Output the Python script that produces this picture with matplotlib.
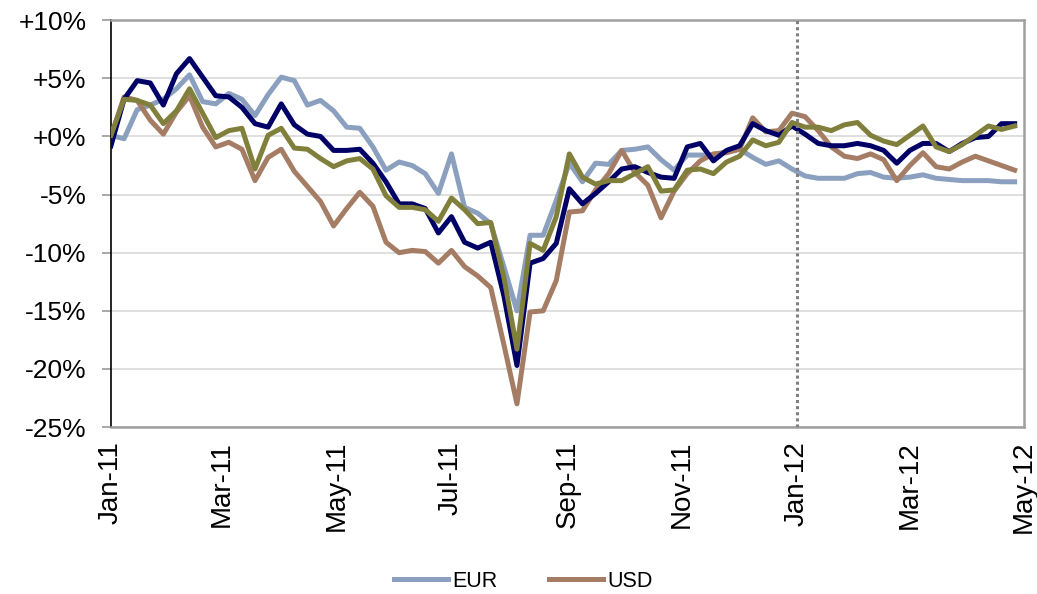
import matplotlib
matplotlib.use('Agg')
import matplotlib.pyplot as plt
import matplotlib.dates as mdates
import pandas as pd

plt.rcParams.update({
    'font.family': ['Liberation Sans', 'DejaVu Sans'],
    'font.size': 17.5,
})

# --- Data (cumulative performance, %, roughly weekly) ---
dates = pd.date_range('2011-01-01', '2012-04-26', periods=70)

eur = [0.1, -0.2, 2.3, 2.7, 3.2, 4.1, 5.3, 3.0, 2.8, 3.7, 3.2, 1.8, 3.6, 5.1, 4.8,
       2.7, 3.1, 2.2, 0.8, 0.7, -0.9, -2.9, -2.2, -2.5, -3.2, -4.9, -1.5, -6.1, -6.6,
       -7.5, -11.2, -15.0, -8.5, -8.5, -5.5, -2.3, -3.9, -2.3, -2.4, -1.2, -1.1, -0.9,
       -2.0, -2.9, -1.6, -1.6, -1.6, -1.3, -1.1, -1.8, -2.4, -2.1, -2.8, -3.4, -3.6, -3.6,
       -3.6, -3.2, -3.1, -3.5, -3.6, -3.5, -3.3, -3.6, -3.7, -3.8, -3.8, -3.8, -3.9, -3.9]

usd = [0.0, 3.4, 3.1, 1.4, 0.2, 2.1, 3.5, 0.8, -0.9, -0.5, -1.1, -3.8, -1.8, -1.1, -3.0,
       -4.3, -5.6, -7.7, -6.2, -4.8, -6.0, -9.1, -10.0, -9.8, -9.9, -10.9, -9.8, -11.2, -12.0,
       -13.0, -17.9, -23.0, -15.1, -15.0, -12.4, -6.5, -6.4, -4.6, -3.2, -1.2, -3.1, -4.2,
       -7.0, -4.7, -3.2, -2.1, -1.5, -1.4, -1.1, 1.6, 0.4, 0.5, 2.0, 1.7, 0.5, -0.9,
       -1.7, -1.9, -1.5, -2.0, -3.8, -2.5, -1.4, -2.6, -2.8, -2.2, -1.7, -2.1, -2.5, -2.9]

navy = [-0.8, 3.2, 4.8, 4.6, 2.7, 5.4, 6.7, 5.1, 3.5, 3.4, 2.5, 1.1, 0.8, 2.8, 1.0,
        0.2, 0.0, -1.2, -1.2, -1.1, -2.3, -3.9, -5.8, -5.8, -6.2, -8.3, -6.9, -9.1, -9.6,
        -9.1, -13.7, -19.7, -10.9, -10.5, -9.2, -4.5, -5.8, -4.9, -3.9, -2.8, -2.6, -3.1,
        -3.5, -3.6, -0.9, -0.6, -2.1, -1.2, -0.8, 1.1, 0.5, 0.1, 0.9, 0.2, -0.6, -0.8,
        -0.8, -0.6, -0.8, -1.2, -2.3, -1.2, -0.6, -0.6, -1.3, -0.6, -0.1, 0.0, 1.1, 1.1]

olive = [0.1, 3.2, 3.1, 2.7, 1.1, 2.2, 4.1, 2.0, -0.1, 0.5, 0.7, -2.8, 0.1, 0.7, -1.0,
         -1.1, -1.9, -2.6, -2.1, -1.9, -2.8, -5.1, -6.1, -6.1, -6.3, -7.3, -5.3, -6.3, -7.5,
         -7.4, -12.1, -18.3, -9.2, -9.8, -6.9, -1.5, -3.5, -4.1, -3.8, -3.8, -3.2, -2.6,
         -4.7, -4.6, -2.9, -2.8, -3.2, -2.2, -1.7, -0.3, -0.8, -0.5, 1.2, 0.8, 0.8, 0.5,
         1.0, 1.2, 0.1, -0.4, -0.7, 0.1, 0.9, -0.9, -1.3, -0.7, 0.1, 0.9, 0.6, 0.9]

y_ticks = [10, 5, 0, -5, -10, -15, -20, -25]
y_labels = ['+10%', '+5%', '+0%', '-5%', '-10%', '-15%', '-20%', '-25%']
x_ticks = pd.to_datetime(['2011-01-01', '2011-03-01', '2011-05-01', '2011-07-01', '2011-09-01',
                          '2011-11-01', '2012-01-01', '2012-03-01', '2012-05-01'])
marker_date = pd.Timestamp('2012-01-01')

fig = plt.figure(figsize=(10.37, 5.94), dpi=100)
ax = fig.add_axes([0.107, 0.281, 0.8805, 0.685])

lw = 3.6
l_eur, = ax.plot(dates, eur, color='#8B9FBE', lw=lw, label='EUR', zorder=3)
l_usd, = ax.plot(dates, usd, color='#A57D64', lw=lw, label='USD', zorder=3)
ax.plot(dates, navy, color='#000066', lw=lw, zorder=3)
ax.plot(dates, olive, color='#80803C', lw=lw, zorder=3)

# year break marker
ax.axvline(marker_date, color='#7F7F7F', lw=2.2, ls=(0, (1, 1)), zorder=4)

ax.set_ylim(-25, 10)
ax.set_yticks(y_ticks)
ax.set_yticklabels(y_labels, fontsize=19)
ax.set_xlim(pd.Timestamp('2011-01-01'), pd.Timestamp('2012-05-01'))
ax.set_xticks(x_ticks)
ax.xaxis.set_major_formatter(mdates.DateFormatter('%b-%y'))
for lab in ax.get_xticklabels():
    lab.set_rotation(90)
    lab.set_fontsize(20)

ax.yaxis.grid(True, color='#D9D9D9', lw=1.2, zorder=0)
ax.set_axisbelow(True)
ax.tick_params(axis='x', length=0, pad=10)
ax.tick_params(axis='y', length=6.5, width=1.2, color='#999999', pad=11)

for side in ['top', 'right', 'bottom']:
    ax.spines[side].set_color('#A0A0A0')
    ax.spines[side].set_linewidth(1.8)
ax.spines['left'].set_color('#000000')
ax.spines['left'].set_linewidth(1.2)

fig.legend(handles=[l_eur, l_usd], loc='center', bbox_to_anchor=(0.505, 0.021),
           ncol=2, frameon=False, fontsize=15.5, handlelength=2.5,
           handletextpad=0.2, columnspacing=2.4)

fig.savefig('out.png', dpi=100, facecolor='white')
